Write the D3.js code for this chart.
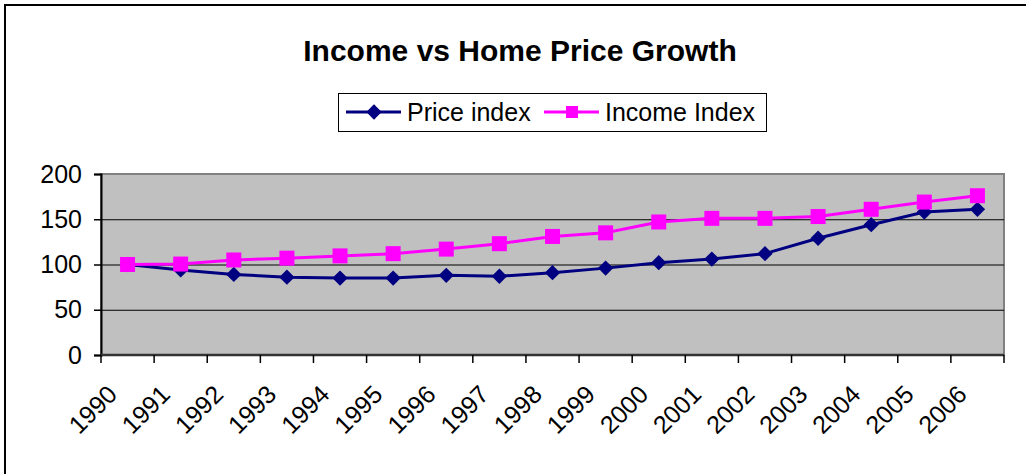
<!DOCTYPE html>
<html>
<head>
<meta charset="utf-8">
<script src="https://cdn.jsdelivr.net/npm/d3@7"></script>
<style>
  body { margin: 0; background: #fff; }
  svg { display: block; font-family: Arial, "Liberation Sans", sans-serif; }
</style>
</head>
<body>
<div id="chart"></div>
<script>
// chart data
var years = ["1990", "1991", "1992", "1993", "1994", "1995", "1996", "1997", "1998",
    "1999", "2000", "2001", "2002", "2003", "2004", "2005", "2006"];
var priceIndex = [100, 94, 89, 86, 85, 85, 88, 87, 91, 96, 102, 106, 112, 129, 144, 158, 161];
var incomeIndex = [100, 100.5, 105, 107, 109.5, 112, 117, 123, 131, 135, 147, 151, 151, 153, 161, 169, 176];
var yTicks = [0, 50, 100, 150, 200];
var seriesNames = ["Price index", "Income Index"];

var svgWidth = 1026;
var svgHeight = 474;
var plot = { left: 101, right: 1004, top: 174, bottom: 355 };
var navy = "#000080";
var magenta = "#ff00ff";

var svg = d3.select("#chart")
    .append("svg")
    .attr("width", svgWidth)
    .attr("height", svgHeight);

// outer chart border (only top and left are visible in the picture)
svg.append("path")
    .attr("d", "M5,480 L5,5 L1030,5")
    .attr("fill", "none")
    .attr("stroke", "#000")
    .attr("stroke-width", 2);

// title
svg.append("text")
    .attr("x", 520)
    .attr("y", 61)
    .attr("text-anchor", "middle")
    .attr("font-size", "30px")
    .attr("font-weight", "bold")
    .text("Income vs Home Price Growth");

var x = d3.scaleBand()
    .domain(years)
    .range([plot.left, plot.right])
    .padding(0);

var y = d3.scaleLinear()
    .domain([0, 200])
    .range([plot.bottom, plot.top]);

// plot background
svg.append("rect")
    .attr("x", plot.left)
    .attr("y", plot.top)
    .attr("width", plot.right - plot.left)
    .attr("height", plot.bottom - plot.top)
    .attr("fill", "#c0c0c0")
    .attr("stroke", "#808080")
    .attr("stroke-width", 2);

// gridlines
svg.selectAll(".grid")
    .data(yTicks.slice(1, yTicks.length - 1))
    .enter()
    .append("line")
    .attr("x1", plot.left)
    .attr("x2", plot.right)
    .attr("y1", function (d) { return y(d) + 0.5; })
    .attr("y2", function (d) { return y(d) + 0.5; })
    .attr("stroke", "#000")
    .attr("stroke-width", 1);

// y axis
var yAxis = svg.append("g")
    .attr("transform", "translate(" + plot.left + ",0)")
    .call(d3.axisLeft(y).tickValues(yTicks).tickSize(7).tickPadding(12));
yAxis.select(".domain").attr("stroke", "#000").attr("stroke-width", 2);
yAxis.selectAll(".tick line").attr("stroke", "#000").attr("stroke-width", 1.5);
yAxis.selectAll("text")
    .attr("font-size", "25px")
    .attr("font-family", "Arial, 'Liberation Sans', sans-serif")
    .attr("fill", "#000");

// x axis line and ticks on band edges
svg.append("line")
    .attr("x1", plot.left)
    .attr("x2", plot.right)
    .attr("y1", plot.bottom)
    .attr("y2", plot.bottom)
    .attr("stroke", "#333")
    .attr("stroke-width", 2.5);

var edges = years.map(function (d) { return x(d); }).concat([x.range()[1]]);
svg.selectAll(".xtick")
    .data(edges)
    .enter()
    .append("line")
    .attr("x1", function (d) { return d; })
    .attr("x2", function (d) { return d; })
    .attr("y1", plot.bottom)
    .attr("y2", plot.bottom + 8)
    .attr("stroke", "#000")
    .attr("stroke-width", 1.5);

svg.selectAll(".xlabel")
    .data(years)
    .enter()
    .append("text")
    .attr("text-anchor", "end")
    .attr("font-size", "25px")
    .attr("transform", function (d) {
        var cx = x(d) + x.bandwidth() / 2 - 9;
        return "translate(" + cx + ",396) rotate(-45)";
    })
    .text(function (d) { return d; });

// lines
var line = d3.line()
    .x(function (d, i) { return x(years[i]) + x.bandwidth() / 2; })
    .y(function (d) { return y(d); });

svg.append("path")
    .datum(priceIndex)
    .attr("d", line)
    .attr("fill", "none")
    .attr("stroke", navy)
    .attr("stroke-width", 3);

svg.append("path")
    .datum(incomeIndex)
    .attr("d", line)
    .attr("fill", "none")
    .attr("stroke", magenta)
    .attr("stroke-width", 3);

// symbolDiamond2 is already a square standing on its corner
var diamond = d3.symbol().type(d3.symbolDiamond2).size(150);

svg.selectAll(".pmark")
    .data(priceIndex)
    .enter()
    .append("path")
    .attr("d", diamond)
    .attr("transform", function (d, i) {
        return "translate(" + (x(years[i]) + x.bandwidth() / 2) + "," + y(d) + ")";
    })
    .attr("fill", navy);

svg.selectAll(".imark")
    .data(incomeIndex)
    .enter()
    .append("rect")
    .attr("x", function (d, i) { return x(years[i]) + x.bandwidth() / 2 - 7.5; })
    .attr("y", function (d) { return y(d) - 7.5; })
    .attr("width", 15)
    .attr("height", 15)
    .attr("fill", magenta);

// legend
var legend = svg.append("g");
legend.append("rect")
    .attr("x", 338.5)
    .attr("y", 93.5)
    .attr("width", 428)
    .attr("height", 38)
    .attr("fill", "#fff")
    .attr("stroke", "#000")
    .attr("stroke-width", 1);

var legendItems = [
    { name: seriesNames[0], color: navy, x0: 346, marker: "diamond" },
    { name: seriesNames[1], color: magenta, x0: 544, marker: "square" }
];

var items = legend.selectAll(".item")
    .data(legendItems)
    .enter()
    .append("g");

items.append("line")
    .attr("x1", function (d) { return d.x0; })
    .attr("x2", function (d) { return d.x0 + 55; })
    .attr("y1", 112)
    .attr("y2", 112)
    .attr("stroke", function (d) { return d.color; })
    .attr("stroke-width", 3);

items.append("path")
    .attr("d", function (d) {
        return d.marker === "diamond"
            ? diamond()
            : d3.symbol().type(d3.symbolSquare).size(144)();
    })
    .attr("transform", function (d) {
        return "translate(" + (d.x0 + 28) + ",112)";
    })
    .attr("fill", function (d) { return d.color; });

items.append("text")
    .attr("x", function (d) { return d.x0 + 61; })
    .attr("y", 121)
    .attr("font-size", "25px")
    .text(function (d) { return d.name; });
</script>
</body>
</html>
